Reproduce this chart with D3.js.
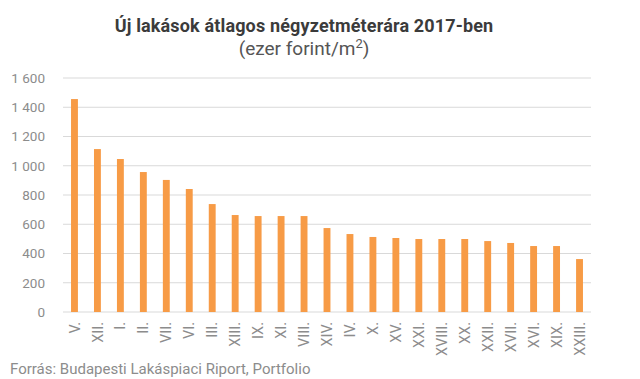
<!DOCTYPE html>
<html>
<head>
<meta charset="utf-8">
<script src="https://cdn.jsdelivr.net/npm/d3@7"></script>
<style>
  body { margin: 0; background: #fff; }
  text { font-family: Roboto, "Noto Sans", sans-serif; }
</style>
</head>
<body>
<div id="chart"></div>
<script>
// districts and prices (ezer Ft / m2)
const districts = ["V.", "XII.", "I.", "II.", "VII.", "VI.", "III.", "XIII.", "IX.", "XI.",
  "VIII.", "XIV.", "IV.", "X.", "XV.", "XXI.", "XVIII.", "XX.", "XXII.", "XVII.",
  "XVI.", "XIX.", "XXIII."];
const prices = [1456, 1114, 1046, 957, 903, 841, 738, 663, 656, 656,
  656, 574, 533, 513, 506, 499, 499, 499, 485, 472,
  451, 451, 362];
const yTicks = [0, 200, 400, 600, 800, 1000, 1200, 1400, 1600];

const width = 640;
const height = 379;
const margin = {left: 63, right: 49, top: 78, bottom: 67};

const svg = d3.select("#chart")
  .append("svg")
  .attr("width", width)
  .attr("height", height);

const yScale = d3.scaleLinear()
  .domain([0, 1600])
  .range([height - margin.bottom, margin.top]);

const xScale = d3.scaleBand()
  .domain(districts)
  .range([margin.left, width - margin.right])
  .paddingInner(0.7)
  .paddingOuter(0.35);

// gridlines
svg.append("g")
  .selectAll("line")
  .data(yTicks)
  .enter()
  .append("line")
    .attr("x1", margin.left)
    .attr("x2", width - margin.right)
    .attr("y1", d => yScale(d))
    .attr("y2", d => yScale(d))
    .attr("stroke", "#d9d9d9")
    .attr("stroke-width", 1);

// y axis labels
const yAxis = svg.append("g")
  .attr("transform", `translate(${margin.left}, 0)`)
  .call(d3.axisLeft(yScale)
    .tickValues(yTicks)
    .tickSize(0)
    .tickPadding(18)
    .tickFormat(d => d3.format(",")(d).replace(",", " ")));
yAxis.select(".domain").remove();
yAxis.selectAll("text")
  .attr("font-size", "13.5px")
  .attr("fill", "#8c8c8c");

// bars
svg.selectAll(".bar")
  .data(prices)
  .enter()
  .append("rect")
    .attr("class", "bar")
    .attr("x", (d, i) => xScale(districts[i]))
    .attr("y", d => yScale(d))
    .attr("width", xScale.bandwidth())
    .attr("height", d => yScale(0) - yScale(d))
    .attr("fill", "#f79b46");

// x axis labels, rotated
const xAxis = svg.append("g")
  .attr("transform", `translate(0, ${height - margin.bottom})`)
  .call(d3.axisBottom(xScale).tickSize(0).tickPadding(0));
xAxis.select(".domain").remove();
xAxis.selectAll("text")
  .attr("font-size", "14.5px")
  .attr("fill", "#8c8c8c")
  .attr("text-anchor", "end")
  .attr("dy", "0.35em")
  .attr("transform", "translate(0, 10) rotate(-90)");

// titles
svg.append("text")
  .attr("x", 304)
  .attr("y", 32)
  .attr("text-anchor", "middle")
  .attr("font-size", "18px")
  .attr("font-weight", "bold")
  .attr("letter-spacing", "0.15px")
  .attr("fill", "#3b3b3b")
  .text("Új lakások átlagos négyzetméterára 2017-ben");

const sub = svg.append("text")
  .attr("x", 304)
  .attr("y", 55)
  .attr("text-anchor", "middle")
  .attr("font-size", "19px")
  .attr("fill", "#555")
  .text("(ezer forint/m");
sub.append("tspan")
  .attr("dy", "-7")
  .attr("font-size", "13px")
  .text("2");
sub.append("tspan")
  .attr("dy", "7")
  .text(")");

// source
svg.append("text")
  .attr("x", 10)
  .attr("y", 374)
  .attr("font-size", "15px")
  .attr("fill", "#8c8c8c")
  .text("Forrás: Budapesti Lakáspiaci Riport, Portfolio");
</script>
</body>
</html>
